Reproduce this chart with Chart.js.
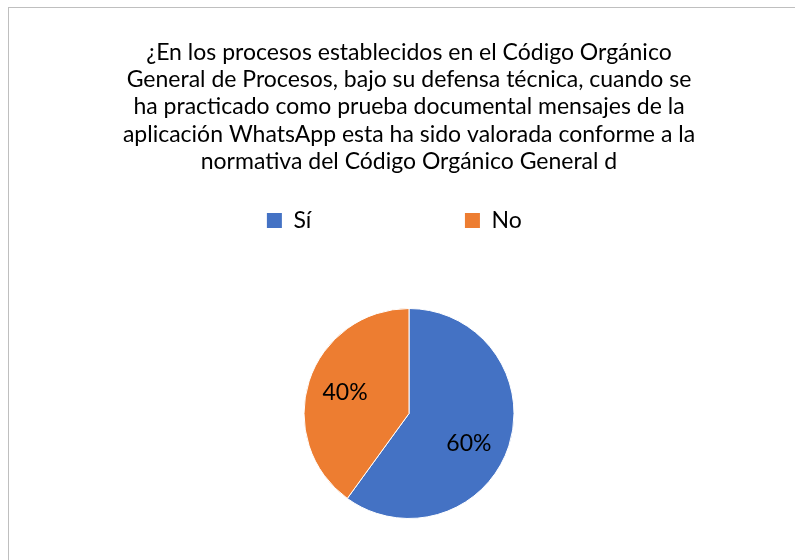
<!DOCTYPE html>
<html>
<head>
<meta charset="utf-8">
<script src="https://cdn.jsdelivr.net/npm/chart.js@4"></script>
<style>
  html, body { margin: 0; padding: 0; background: #fff; overflow: hidden; }
  #box {
    position: absolute; left: 8px; top: 7px;
    width: 800px; height: 580px;
    border-top: 1px solid #bfbfbf; border-left: 1px solid #bfbfbf;
  }
</style>
</head>
<body>
<div id="box"><canvas id="chart" width="800" height="580"></canvas></div>
<script>
var titleLines = [
    '¿En los procesos establecidos en el Código Orgánico',
    'General de Procesos, bajo su defensa técnica, cuando se',
    'ha practicado como prueba documental mensajes de la',
    'aplicación WhatsApp esta ha sido valorada conforme a la',
    'normativa del Código Orgánico General d'
];
var labels = ['Sí', 'No'];
var values = [60, 40];
var colors = ['#4472C4', '#ED7D31'];

// trailing spaces widen the legend items so they sit apart like the original
var legendPad = [21, 5];
// nudge of each percentage label around the centre, degrees
var labelShift = [9, 0];

var pctLabels = {
    id: 'pctLabels',
    afterDatasetsDraw: function (chart) {
        var ctx = chart.ctx;
        var meta = chart.getDatasetMeta(0);
        var total = values.reduce(function (a, b) { return a + b; }, 0);
        ctx.save();
        ctx.font = '23px Lato';
        ctx.fillStyle = '#000';
        ctx.textAlign = 'center';
        ctx.textBaseline = 'middle';
        meta.data.forEach(function (arc, i) {
            var mid = (arc.startAngle + arc.endAngle) / 2 + labelShift[i] * Math.PI / 180;
            var r = arc.outerRadius * 0.64;
            var x = arc.x + Math.cos(mid) * r;
            var y = arc.y + Math.sin(mid) * r;
            ctx.fillText(Math.round(values[i] / total * 100) + '%', x, y);
        });
        ctx.restore();
    }
};

new Chart(document.getElementById('chart'), {
    type: 'pie',
    data: {
        labels: labels,
        datasets: [{
            data: values,
            backgroundColor: colors,
            borderColor: '#ffffff',
            borderWidth: 1,
            radius: 105
        }]
    },
    plugins: [pctLabels],
    options: {
        responsive: false,
        animation: false,
        layout: { padding: { bottom: 3 } },
        plugins: {
            tooltip: { enabled: false },
            title: {
                display: true,
                text: titleLines,
                color: '#000',
                font: { family: 'Lato', size: 23, weight: 'normal', lineHeight: 27.2 / 23 },
                padding: { top: 31, bottom: 4 }
            },
            legend: {
                position: 'top',
                labels: {
                    color: '#000',
                    font: { family: 'Lato', size: 23 },
                    boxWidth: 15,
                    boxHeight: 15,
                    padding: 30,
                    generateLabels: function (chart) {
                        var items = Chart.overrides.pie.plugins.legend.labels.generateLabels(chart);
                        items.forEach(function (it, i) {
                            it.text = it.text + ' '.repeat(legendPad[i]);
                            it.lineWidth = 0;
                        });
                        return items;
                    }
                }
            }
        }
    }
});
</script>
</body>
</html>
